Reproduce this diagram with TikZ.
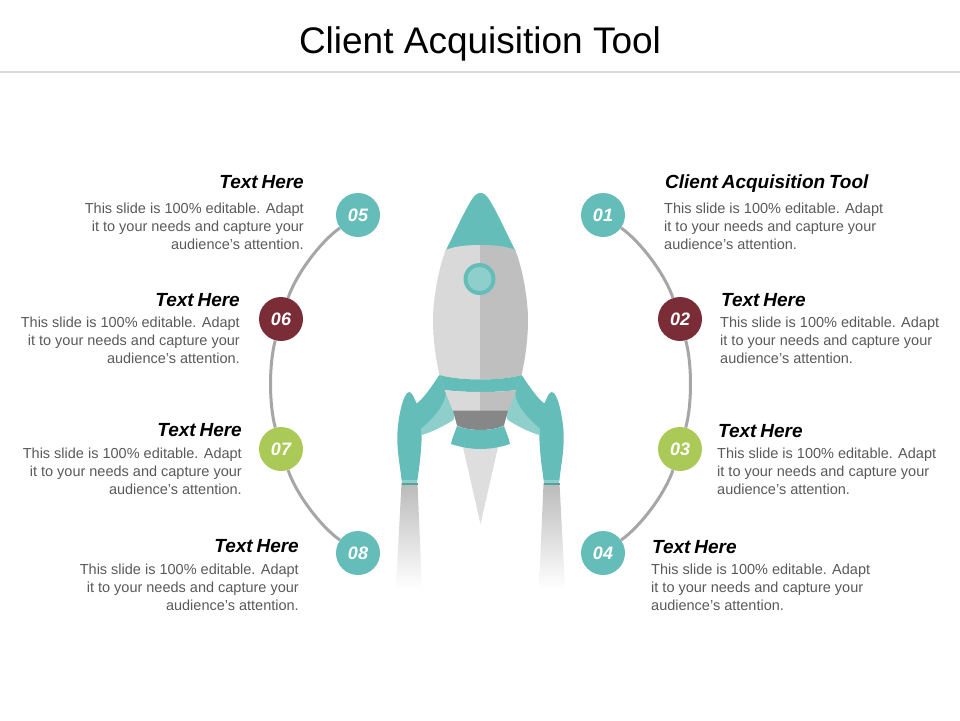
\documentclass[tikz,border=0pt]{standalone}
\usepackage{fontspec}
\setmainfont{Liberation Sans}
\newfontfamily\headfont[WordSpace=0.72]{Liberation Sans}
\usetikzlibrary{positioning}

\definecolor{teal1}{HTML}{65BDBA}
\definecolor{teal2}{HTML}{8FCFCB}
\definecolor{wine}{HTML}{7B2D37}
\definecolor{olive1}{HTML}{ABC957}
\definecolor{ring}{HTML}{A6A6A6}
\definecolor{bodytext}{HTML}{595959}

\begin{document}
\begin{tikzpicture}[
    x=1pt,
    y=-1pt,
    num/.style={circle,fill=#1,text=white,minimum size=44pt,inner sep=0pt,font=\fontsize{18}{18}\selectfont\bfseries\itshape},
    head/.style={inner sep=0pt,text height=13pt,text depth=4pt,font=\headfont\fontsize{19}{19}\selectfont\bfseries\itshape},
    desc/.style={inner sep=0pt,align=#1,text=bodytext,font=\fontsize{14.5}{17.7}\selectfont},
    arc/.style={draw=ring,line width=3pt,looseness=.72}
]
\useasboundingbox (0,0) rectangle (960,720);

% Title
\node[font=\fontsize{37}{37}\selectfont] (title) at (480,44) {Client Acquisition Tool};
\coordinate (ruleL) at (0,72);
\coordinate (ruleR) at (960,72);
\draw[draw=black!15,line width=1.5pt] (ruleL) -- (ruleR);

% Smoke, flame and rocket (one half, then the other)
\fill[fill=black!13] (462.5,445) -- (498.5,445) -- (480.5,524) -- cycle;
\foreach \sc/\sh/\shell in {1/0/black!15,-1/961/black!25}{
\begin{scope}[shift={(\sh,0)},xscale=\sc]
  \shade[top color=black!27,bottom color=white] (401.5,483) -- (417.5,483) -- (422,588) -- (396,588) -- cycle;
  % Fin
  \fill[fill=teal2] (421.7,426) -- (444,390) -- (456,412) -- (453.3,420) .. controls (442,427) and (432,432) .. (421.7,435) -- cycle;
  \fill[fill=teal1] (439.3,375) -- (446,392) .. controls (445,402) and (440,412) .. (421.7,428)
    .. controls (422,450) and (419,468) .. (417.3,481) -- (401.7,481)
    .. controls (400,465) and (397,452) .. (397.3,436) .. controls (397.5,420) and (403,392) .. (409.3,392)
    .. controls (412,392) and (414,398) .. (416.7,403.5) .. controls (424,398) and (432,386) .. (439.3,375) -- cycle;
  \fill[fill=teal2] (402,480) rectangle (417.3,483);
  \fill[fill=teal1!85!black] (401.5,483) rectangle (417.5,484.5);
  % Nose and shell
  \fill[fill=teal1] (445.5,251) .. controls (458,226) and (470,199) .. (476,194.5)
    .. controls (478,193) and (480,193) .. (481,193) -- (481,250) -- cycle;
  \fill[fill=\shell] (481,245) -- (480.5,245) .. controls (468,245) and (455,246) .. (445.7,250)
    .. controls (438,270) and (433,300) .. (433,320) .. controls (433,340) and (436,360) .. (439.5,375)
    .. controls (450,378) and (465,379.5) .. (481,379.5) -- cycle;
  % Band, nozzle and bell
  \fill[fill=teal1] (439.3,375) .. controls (450,378) and (465,379.5) .. (481,379.5) -- (481,392)
    .. controls (468,392) and (455,391.5) .. (445,390) -- cycle;
  \fill[fill=\shell] (444.5,390) .. controls (455,391.5) and (468,392) .. (481,392) -- (481,411) -- (453,411) -- cycle;
  \fill[fill=black!47] (453,410.5) -- (481,410.5) -- (481,430) .. controls (470,430) and (462,428) .. (457,425.5) -- cycle;
  \fill[fill=teal1] (457,426) .. controls (462,428) and (470,430) .. (481,430) -- (481,449)
    .. controls (470,449) and (460,447) .. (451,444) .. controls (452,438) and (455,432) .. (457,426) -- cycle;
\end{scope}
}
% Window
\fill[fill=teal1] (479.5,279) circle (16);
\fill[fill=teal2] (479.5,279) circle (12);

% Numbered circles
\node[num=teal1] (n1) at (603,215) {01};
\node[num=wine] (n2) at (680,319) {02};
\node[num=olive1] (n3) at (680,449) {03};
\node[num=teal1] (n4) at (603,553) {04};
\node[num=teal1] (n5) at (358,215) {05};
\node[num=wine] (n6) at (281,319) {06};
\node[num=olive1] (n7) at (281,449) {07};
\node[num=teal1] (n8) at (358,553) {08};

% Arcs between circles
\draw[arc] (n1) to[bend left=18] (n2);
\draw[arc] (n2) to[bend left=15] (n3);
\draw[arc] (n3) to[bend left=18] (n4);
\draw[arc] (n5) to[bend right=18] (n6);
\draw[arc] (n6) to[bend right=15] (n7);
\draw[arc] (n7) to[bend right=18] (n8);

% Right column
\node[head,anchor=base west] (h1) at (665,188.5) {Client Acquisition Tool};
\node[desc=left,below=10.5pt of h1.south west,anchor=north west,xshift=-1pt] (d1) {This slide is 100\% editable.  Adapt\\it to your needs and capture your\\audience's attention.};
\node[head,anchor=base west] (h2) at (721,306.5) {Text Here};
\node[desc=left,below=6.5pt of h2.south west,anchor=north west,xshift=-1pt] (d2) {This slide is 100\% editable.  Adapt\\it to your needs and capture your\\audience's attention.};
\node[head,anchor=base west] (h3) at (718,437.5) {Text Here};
\node[desc=left,below=6.5pt of h3.south west,anchor=north west,xshift=-1pt] (d3) {This slide is 100\% editable.  Adapt\\it to your needs and capture your\\audience's attention.};
\node[head,anchor=base west] (h4) at (652,553.5) {Text Here};
\node[desc=left,below=6.5pt of h4.south west,anchor=north west,xshift=-1pt] (d4) {This slide is 100\% editable.  Adapt\\it to your needs and capture your\\audience's attention.};

% Left column
\node[head,anchor=base east] (h5) at (304,188.5) {Text Here};
\node[desc=right,below=10.5pt of h5.south east,anchor=north east] (d5) {This slide is 100\% editable.  Adapt\\it to your needs and capture your\\audience's attention.};
\node[head,anchor=base east] (h6) at (240,306.5) {Text Here};
\node[desc=right,below=6.5pt of h6.south east,anchor=north east] (d6) {This slide is 100\% editable.  Adapt\\it to your needs and capture your\\audience's attention.};
\node[head,anchor=base east] (h7) at (242,436.5) {Text Here};
\node[desc=right,below=7.5pt of h7.south east,anchor=north east] (d7) {This slide is 100\% editable.  Adapt\\it to your needs and capture your\\audience's attention.};
\node[head,anchor=base east] (h8) at (299,552.5) {Text Here};
\node[desc=right,below=7.5pt of h8.south east,anchor=north east] (d8) {This slide is 100\% editable.  Adapt\\it to your needs and capture your\\audience's attention.};

\end{tikzpicture}
\end{document}
